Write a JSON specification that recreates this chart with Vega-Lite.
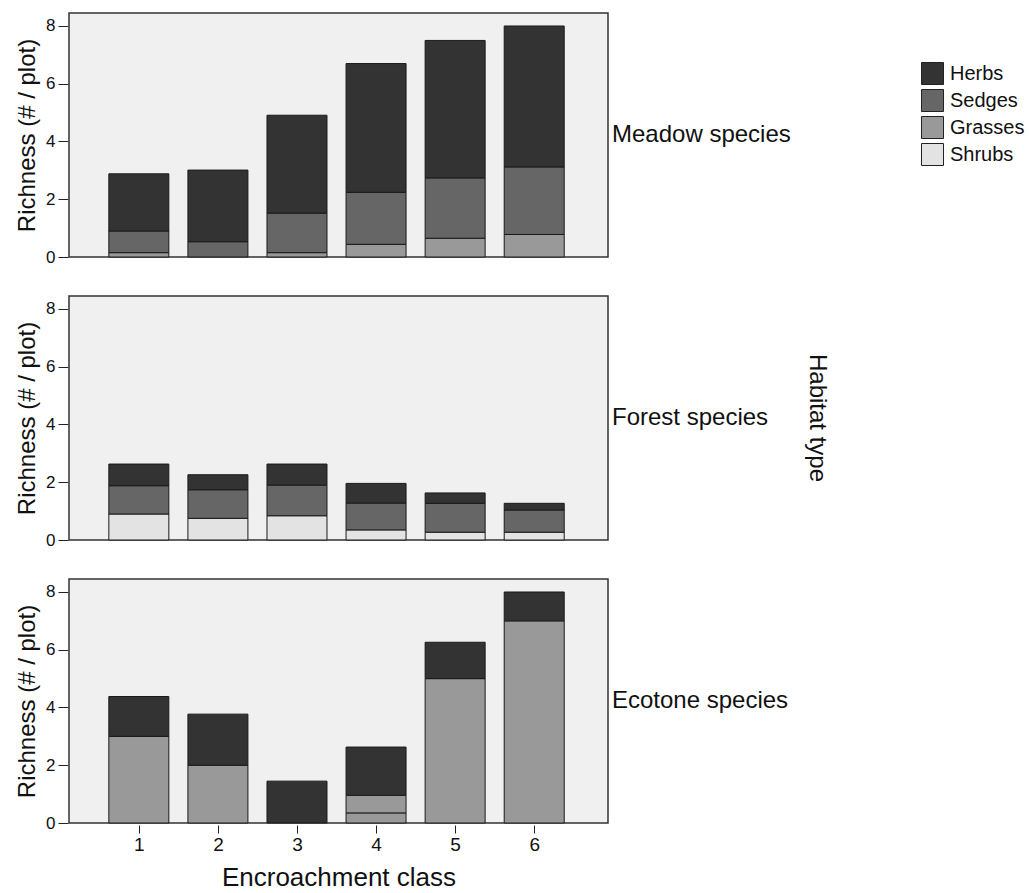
{
  "$schema": "https://vega.github.io/schema/vega-lite/v6.json",
  "background": "white",
  "padding": {"left": 15, "top": 12, "right": 5, "bottom": 5},
  "datasets": {
    "layers": [
      {"type": "Shrubs", "layer": 1},
      {"type": "Grasses", "layer": 2},
      {"type": "Sedges", "layer": 3},
      {"type": "Herbs", "layer": 4}
    ]
  },
  "data": {
    "values": [
      {"habitat": "Meadow species", "cls": 1, "type": "Grasses", "richness": 0.15},
      {"habitat": "Meadow species", "cls": 1, "type": "Sedges", "richness": 0.75},
      {"habitat": "Meadow species", "cls": 1, "type": "Herbs", "richness": 1.98},
      {"habitat": "Meadow species", "cls": 2, "type": "Sedges", "richness": 0.53},
      {"habitat": "Meadow species", "cls": 2, "type": "Herbs", "richness": 2.48},
      {"habitat": "Meadow species", "cls": 3, "type": "Grasses", "richness": 0.15},
      {"habitat": "Meadow species", "cls": 3, "type": "Sedges", "richness": 1.37},
      {"habitat": "Meadow species", "cls": 3, "type": "Herbs", "richness": 3.39},
      {"habitat": "Meadow species", "cls": 4, "type": "Grasses", "richness": 0.44},
      {"habitat": "Meadow species", "cls": 4, "type": "Sedges", "richness": 1.8},
      {"habitat": "Meadow species", "cls": 4, "type": "Herbs", "richness": 4.46},
      {"habitat": "Meadow species", "cls": 5, "type": "Grasses", "richness": 0.65},
      {"habitat": "Meadow species", "cls": 5, "type": "Sedges", "richness": 2.09},
      {"habitat": "Meadow species", "cls": 5, "type": "Herbs", "richness": 4.76},
      {"habitat": "Meadow species", "cls": 6, "type": "Grasses", "richness": 0.78},
      {"habitat": "Meadow species", "cls": 6, "type": "Sedges", "richness": 2.34},
      {"habitat": "Meadow species", "cls": 6, "type": "Herbs", "richness": 4.88},
      {"habitat": "Forest species", "cls": 1, "type": "Shrubs", "richness": 0.9},
      {"habitat": "Forest species", "cls": 1, "type": "Sedges", "richness": 0.98},
      {"habitat": "Forest species", "cls": 1, "type": "Herbs", "richness": 0.75},
      {"habitat": "Forest species", "cls": 2, "type": "Shrubs", "richness": 0.75},
      {"habitat": "Forest species", "cls": 2, "type": "Sedges", "richness": 0.99},
      {"habitat": "Forest species", "cls": 2, "type": "Herbs", "richness": 0.52},
      {"habitat": "Forest species", "cls": 3, "type": "Shrubs", "richness": 0.84},
      {"habitat": "Forest species", "cls": 3, "type": "Sedges", "richness": 1.06},
      {"habitat": "Forest species", "cls": 3, "type": "Herbs", "richness": 0.73},
      {"habitat": "Forest species", "cls": 4, "type": "Shrubs", "richness": 0.35},
      {"habitat": "Forest species", "cls": 4, "type": "Sedges", "richness": 0.93},
      {"habitat": "Forest species", "cls": 4, "type": "Herbs", "richness": 0.68},
      {"habitat": "Forest species", "cls": 5, "type": "Shrubs", "richness": 0.27},
      {"habitat": "Forest species", "cls": 5, "type": "Sedges", "richness": 1.0},
      {"habitat": "Forest species", "cls": 5, "type": "Herbs", "richness": 0.36},
      {"habitat": "Forest species", "cls": 6, "type": "Shrubs", "richness": 0.27},
      {"habitat": "Forest species", "cls": 6, "type": "Sedges", "richness": 0.77},
      {"habitat": "Forest species", "cls": 6, "type": "Herbs", "richness": 0.23},
      {"habitat": "Ecotone species", "cls": 1, "type": "Grasses", "richness": 3.0},
      {"habitat": "Ecotone species", "cls": 1, "type": "Herbs", "richness": 1.38},
      {"habitat": "Ecotone species", "cls": 2, "type": "Grasses", "richness": 2.0},
      {"habitat": "Ecotone species", "cls": 2, "type": "Herbs", "richness": 1.77},
      {"habitat": "Ecotone species", "cls": 3, "type": "Herbs", "richness": 1.45},
      {"habitat": "Ecotone species", "cls": 4, "type": "Grasses", "richness": 0.35},
      {"habitat": "Ecotone species", "cls": 4, "type": "Grasses", "richness": 0.61},
      {"habitat": "Ecotone species", "cls": 4, "type": "Herbs", "richness": 1.67},
      {"habitat": "Ecotone species", "cls": 5, "type": "Grasses", "richness": 5.0},
      {"habitat": "Ecotone species", "cls": 5, "type": "Herbs", "richness": 1.26},
      {"habitat": "Ecotone species", "cls": 6, "type": "Grasses", "richness": 7.0},
      {"habitat": "Ecotone species", "cls": 6, "type": "Herbs", "richness": 1.0}
    ]
  },
  "transform": [
    {"lookup": "type", "from": {"data": {"name": "layers"}, "key": "type", "fields": ["layer"]}}
  ],
  "facet": {
    "row": {
      "field": "habitat",
      "type": "nominal",
      "sort": ["Meadow species", "Forest species", "Ecotone species"],
      "title": "Habitat type",
      "header": {
        "labelOrient": "right",
        "labelAngle": 0,
        "labelAlign": "right",
        "labelBaseline": "middle",
        "labelFont": "Liberation Sans",
        "labelFontSize": 24,
        "labelColor": "#111",
        "labelPadding": 3,
        "titleOrient": "right",
        "titleAngle": 90,
        "titleFont": "Liberation Sans",
        "titleFontSize": 24,
        "titleFontWeight": "normal",
        "titleColor": "#111",
        "titlePadding": 4
      }
    }
  },
  "spacing": 36,
  "spec": {
    "width": 539,
    "height": 244,
    "mark": {"type": "bar", "size": 60, "stroke": "#1a1a1a", "strokeWidth": 1},
    "encoding": {
      "x": {
        "field": "cls",
        "type": "quantitative",
        "title": "Encroachment class",
        "scale": {"domain": [0.18, 6.87], "nice": false, "zero": false},
        "axis": {
          "values": [1, 2, 3, 4, 5, 6],
          "format": "d",
          "grid": false,
          "domain": false,
          "tickSize": 8,
          "tickColor": "#222",
          "labelFontSize": 19,
          "labelPadding": 2,
          "labelColor": "#111",
          "titleFontSize": 26,
          "titleFontWeight": "normal",
          "titleColor": "#111",
          "titlePadding": 10
        }
      },
      "y": {
        "field": "richness",
        "type": "quantitative",
        "stack": "zero",
        "title": "Richness (# / plot)",
        "scale": {"domain": [0, 8.45], "nice": false},
        "axis": {
          "values": [0, 2, 4, 6, 8],
          "grid": false,
          "domain": false,
          "tickSize": 10,
          "tickColor": "#222",
          "labelFontSize": 17,
          "labelPadding": 3,
          "labelColor": "#111",
          "titleFontSize": 24,
          "titleFontWeight": "normal",
          "titleColor": "#111",
          "titlePadding": 6
        }
      },
      "order": {"field": "layer", "type": "quantitative", "sort": "ascending"},
      "color": {
        "field": "type",
        "type": "nominal",
        "sort": ["Herbs", "Sedges", "Grasses", "Shrubs"],
        "scale": {
          "domain": ["Herbs", "Sedges", "Grasses", "Shrubs"],
          "range": ["#333333", "#666666", "#999999", "#e3e3e3"]
        },
        "legend": {
          "title": null,
          "orient": "none",
          "legendX": 852,
          "legendY": 49,
          "symbolType": "square",
          "symbolSize": 484,
          "symbolStrokeColor": "#222",
          "symbolStrokeWidth": 1,
          "symbolOpacity": 1,
          "labelFontSize": 20,
          "labelColor": "#111",
          "labelOffset": 6,
          "rowPadding": 0
        }
      }
    }
  },
  "config": {
    "font": "Liberation Sans",
    "view": {"fill": "#f0f0f0", "stroke": "#333", "strokeWidth": 1.5}
  }
}
